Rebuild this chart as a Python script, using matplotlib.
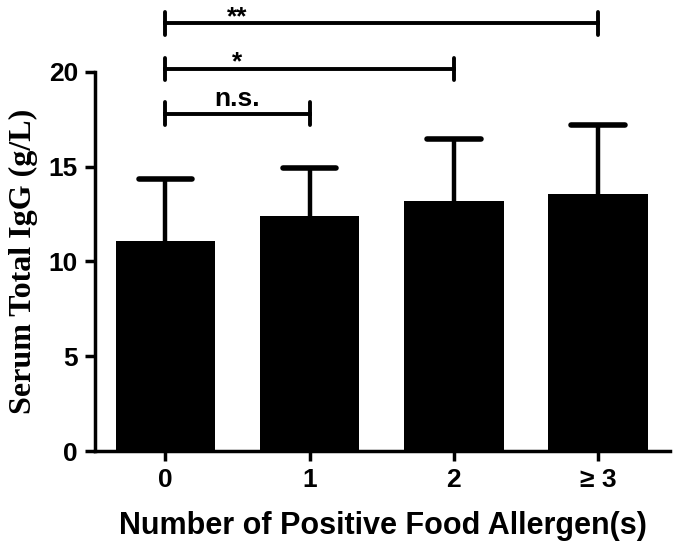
import matplotlib
matplotlib.use("Agg")
import matplotlib.pyplot as plt

groups = ["0", "1", "2", "\u2265 3"]
means = [11.05, 12.37, 13.2, 13.53]
sd_upper = [3.32, 2.58, 3.27, 3.67]

# significance comparisons: (from, to, height, label)
sig_from = [0, 0, 0]
sig_to = [1, 2, 3]
sig_height = [17.8, 20.15, 22.55]
sig_label = ["n.s.", "*", "**"]

sans = ["Liberation Sans", "DejaVu Sans"]
serif = ["Liberation Serif", "DejaVu Serif"]

fig = plt.figure(figsize=(6.77, 5.48), dpi=100)
ax = fig.add_axes([0.140, 0.177, 0.850, 0.692])

x = list(range(len(groups)))
tops = [m + s for m, s in zip(means, sd_upper)]
ax.bar(x, means, width=0.69, color="black", zorder=2)
# upper error bars only
ax.vlines(x, means, tops, color="black", lw=3.2, zorder=1)
ax.hlines(tops, [i - 0.185 for i in x], [i + 0.185 for i in x],
          color="black", lw=4, capstyle="round", zorder=1)

for a, b, h, lab in zip(sig_from, sig_to, sig_height, sig_label):
    ax.plot([a, b], [h, h], color="black", lw=2.8, clip_on=False)
    for xx in (a, b):
        ax.plot([xx, xx], [h - 0.6, h + 0.6], color="black", lw=2.8,
                clip_on=False, solid_capstyle="round")
    off = 0.12 if lab == "n.s." else -0.3
    ax.text(0.5, h + off, lab, ha="center", va="bottom", fontsize=19,
            fontweight="bold", family=sans)

ax.set_xlim(-0.49, 3.5)
ax.set_ylim(0, 20)
ax.set_yticks([0, 5, 10, 15, 20])
ax.set_xticks(x)
ax.set_xticklabels(groups)

for s in ["top", "right"]:
    ax.spines[s].set_visible(False)
for s in ["left", "bottom"]:
    ax.spines[s].set_linewidth(2.5)

ax.tick_params(axis="both", width=2.5, length=7, direction="out", pad=5)
for lab in ax.get_xticklabels() + ax.get_yticklabels():
    lab.set_fontsize(19)
    lab.set_fontweight("bold")
    lab.set_family(sans)

ax.set_xlabel("Number of Positive Food Allergen(s)", fontsize=22,
              fontweight="bold", family=sans, labelpad=14)
ax.set_ylabel("Serum Total IgG (g/L)", fontsize=23, fontweight="bold",
              family=serif, labelpad=8)

fig.savefig("out.png", dpi=100)
